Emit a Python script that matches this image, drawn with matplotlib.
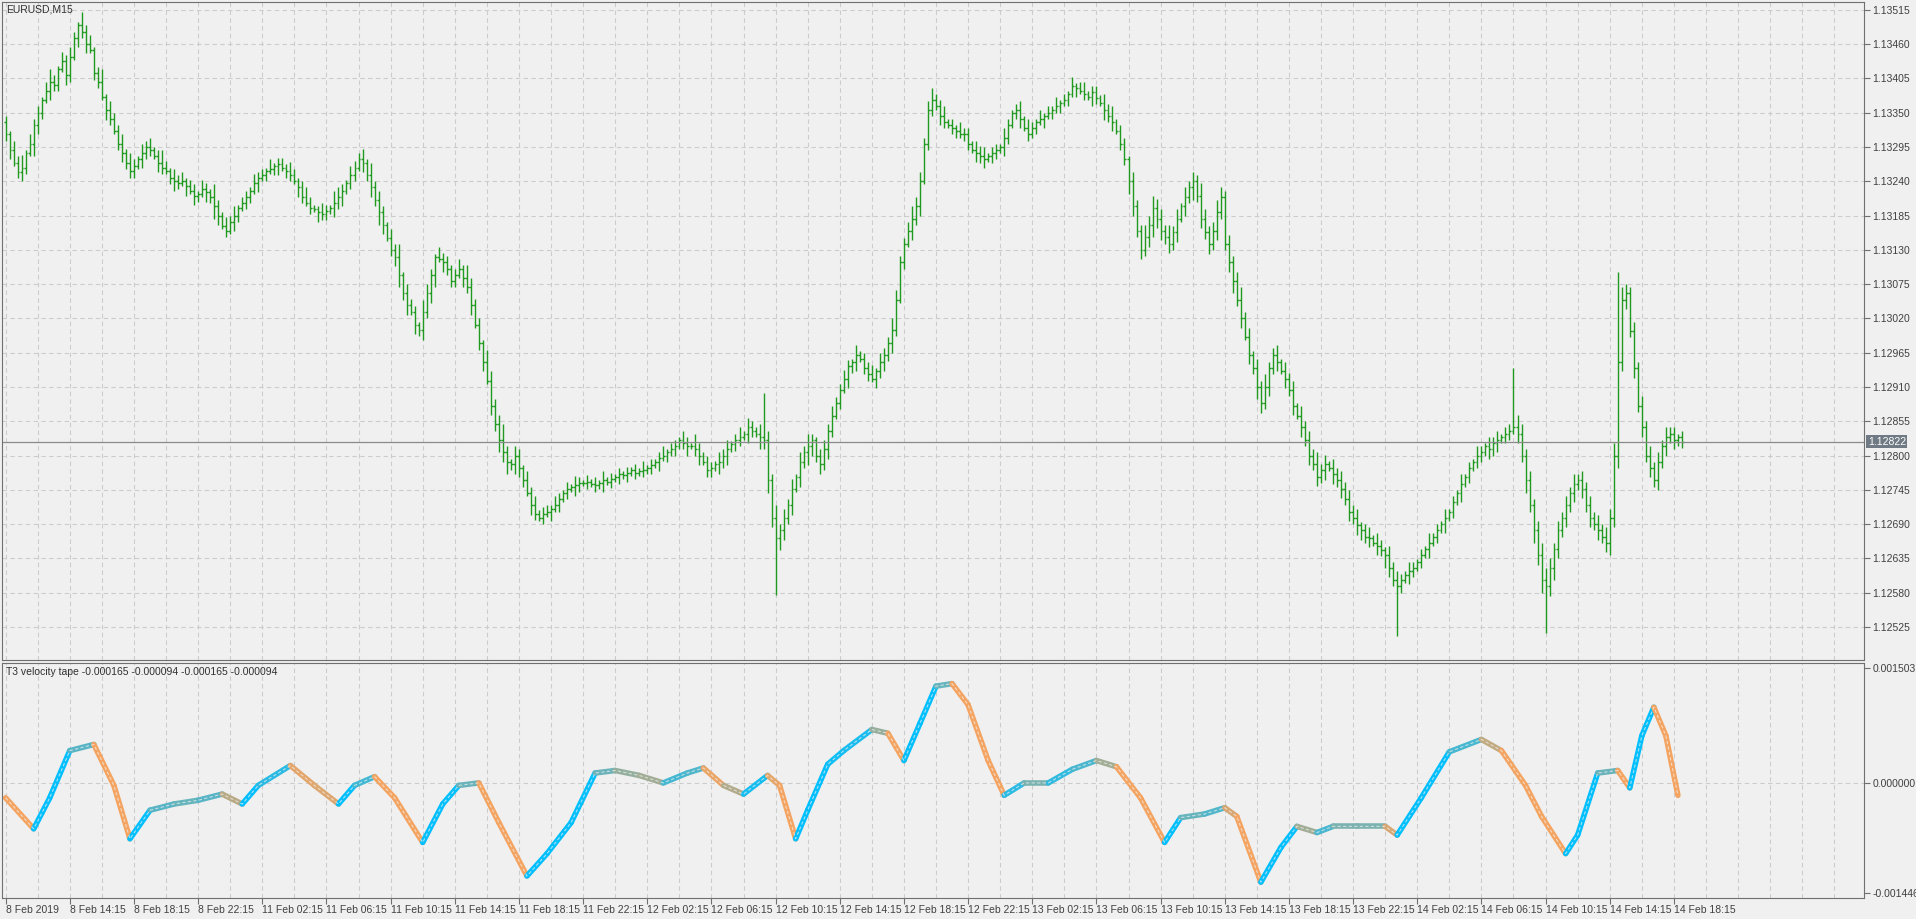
import matplotlib
matplotlib.use("Agg")
import matplotlib.pyplot as plt
import numpy as np
from matplotlib.collections import LineCollection
from matplotlib.colors import to_rgb

plt.rcParams['font.family'] = ['Liberation Sans', 'DejaVu Sans']

BASE = 1.12000
PT = 0.00001
closes_pts = [
1315,1290,1270,1255,1262,1285,1300,1330,1350,1370,1385,1400,1395,1420,1433,1410,
1440,1470,1491,1480,1460,1450,1413,1400,1375,1354,1340,1320,1300,1286,1270,1256,
1265,1276,1285,1295,1290,1280,1270,1262,1256,1245,1240,1237,1240,1232,1225,1217,
1220,1227,1222,1215,1200,1185,1168,1160,1175,1185,1197,1205,1215,1225,1237,1245,
1250,1256,1260,1265,1268,1262,1256,1250,1240,1230,1215,1205,1197,1195,1190,1188,
1192,1197,1205,1215,1225,1237,1250,1262,1276,1270,1250,1230,1210,1190,1170,1149,
1130,1119,1090,1060,1041,1030,1010,1001,1030,1060,1090,1119,1115,1110,1100,1080,
1090,1100,1085,1070,1041,1010,980,950,920,880,850,825,805,790,786,800,
780,760,740,720,707,700,707,710,715,720,730,740,747,750,752,756,
756,758,755,752,756,760,758,762,765,770,768,772,776,772,775,776,
780,785,790,796,800,805,810,815,825,820,815,815,810,800,790,776,
780,786,790,800,810,818,825,830,835,845,840,835,830,825,760,700,
668,680,700,720,747,765,790,805,815,825,800,786,810,840,864,884,
905,923,943,950,962,955,940,930,923,935,950,962,980,1001,1050,1110,
1139,1160,1180,1200,1240,1300,1354,1370,1360,1345,1335,1330,1325,1320,1315,1315,
1300,1290,1286,1280,1276,1280,1285,1290,1295,1310,1330,1350,1354,1340,1325,1315,
1325,1335,1340,1345,1350,1355,1360,1365,1370,1380,1393,1390,1385,1380,1375,1383,
1374,1365,1354,1345,1335,1320,1300,1276,1240,1200,1160,1130,1150,1170,1197,1180,
1160,1150,1140,1158,1180,1200,1215,1230,1240,1217,1180,1158,1139,1160,1190,1215,
1139,1110,1080,1050,1020,990,962,940,910,884,910,940,962,950,935,923,
905,880,864,845,825,800,786,766,776,786,780,770,760,747,730,710,
700,688,680,670,668,660,655,649,640,620,600,590,600,609,615,620,
629,640,650,660,670,680,690,700,710,725,740,755,766,780,790,800,
805,815,810,820,825,830,835,840,845,835,800,760,720,680,640,600,
590,620,650,680,700,720,740,755,760,747,720,700,690,680,670,660,
700,800,950,1050,1060,1000,940,880,845,800,780,760,790,815,830,835,
825,830,822]
up_wick = ("2132413221342132" "3214231241322313" "2132312421323122" "1321421323122132"
           "2131221321232113" "2143213223142321" "3241322143213221" "2314322143235213"
           "2132312213212132" "1212131212121213" "1212312213214212" "2132312313213432"
           "4232313242123232" "2321312231322432" "2343323422312132" "2132312213212313"
           "2131213121312312" "2132312213224343" "3242313232432343" "2323423132422313"
           "2313232423132323" "2312313213232132" "1213121312131213" "2132312214323234"
           "4323232323232323" "3434323232323232" "212")
dn_wick = ("2312321432132213" "2132312213212322" "2132213212321313" "2132431213212213"
           "1212312213212132" "2132312213232431" "2342313232341322" "2132312313243423"
           "3213212131212132" "1212131212121212" "1213121212312312" "2132312213214343"
           "3432313243232321" "2132312213232321" "2132312213212212" "2132312213212312"
           "1213121212131213" "2132312243232343" "3232313242323232" "2342313243232313"
           "2313232323132323" "2332313243232132" "1213121312131212" "2132312213242434"
           "3343232323232323" "4343323232323232" "322")
spikes = {189: (900, None), 192: (None, 576), 347: (None, 510), 384: (None, 515),
          376: (940, None), 402: (1095, None)}

tick_labels = ["8 Feb 2019", "8 Feb 14:15", "8 Feb 18:15", "8 Feb 22:15",
               "11 Feb 02:15", "11 Feb 06:15", "11 Feb 10:15", "11 Feb 14:15",
               "11 Feb 18:15", "11 Feb 22:15", "12 Feb 02:15", "12 Feb 06:15",
               "12 Feb 10:15", "12 Feb 14:15", "12 Feb 18:15", "12 Feb 22:15",
               "13 Feb 02:15", "13 Feb 06:15", "13 Feb 10:15", "13 Feb 14:15",
               "13 Feb 18:15", "13 Feb 22:15", "14 Feb 02:15", "14 Feb 06:15",
               "14 Feb 10:15", "14 Feb 14:15", "14 Feb 18:15"]

osc_bars = [0,7,11,16,22,27,31,36,42,48,54,59,63,71,77,83,87,92,97,104,109,113,118,123,
            130,135,141,147,152,158,164,170,174,179,184,190,193,197,200,205,209,216,220,
            224,228,232,236,240,245,249,254,260,266,272,277,283,289,293,299,304,307,313,
            318,322,327,331,337,344,347,353,360,368,373,379,383,389,392,397,402,405,408,
            411,414,417]
osc_vals = [-196,-603,-196,424,505,-33,-734,-359,-277,-228,-147,-277,-33,228,-33,-277,-33,
            82,-196,-782,-277,-33,0,-522,-1223,-929,-522,130,163,98,0,130,196,-33,-147,98,
            -33,-734,-359,245,424,701,652,294,782,1271,1304,1027,294,-163,0,0,179,294,212,
            -196,-782,-456,-408,-326,-440,-1304,-848,-571,-652,-571,-571,-571,-685,-196,
            408,571,424,-33,-440,-929,-685,130,163,-65,619,994,619,-163]
osc_vals = [v * 1e-6 for v in osc_vals]

n = len(closes_pts)
c = np.array([BASE + p * PT for p in closes_pts])
o = np.concatenate([[c[0] + 20 * PT], c[:-1]])
uw = np.array([int(d) for d in (up_wick + "2" * n)[:n]]) * 5 * PT
dw = np.array([int(d) for d in (dn_wick + "2" * n)[:n]]) * 5 * PT
h = np.maximum(o, c) + uw
l = np.minimum(o, c) - dw
for k, (hh, ll) in spikes.items():
    if hh is not None: h[k] = BASE + hh * PT
    if ll is not None: l[k] = BASE + ll * PT

BG = "#f0f0f0"
FS = 7.5
fig = plt.figure(figsize=(19.16, 9.19), dpi=100, facecolor=BG)
W, H = 1916, 919
L, R = 2 / W, 1864 / W
ax1 = fig.add_axes([L, 1 - 660 / H, R - L, (660 - 2.4) / H], facecolor=BG)
ax2 = fig.add_axes([L, 1 - 898 / H, R - L, (898 - 663) / H], facecolor=BG)

x = np.arange(n)
xl = (-0.9, 463.4)
grid_x = np.arange(0, 464, 8)
for ax in (ax1, ax2):
    ax.set_xlim(*xl)
    for gx in grid_x:
        ax.axvline(gx, color="#cccccc", lw=0.8, ls=(0, (4, 3)), zorder=0)
    for s in ax.spines.values():
        s.set_color("#707070")
    ax.yaxis.tick_right()
    ax.tick_params(axis="y", direction="out", length=4, colors="#707070",
                   labelcolor="#404040", labelsize=FS, pad=2)

# price panel
ax1.set_ylim(1.12472, 1.135269)
yt = [1.12525 + 0.00055 * i for i in range(19)]
ax1.set_yticks(yt)
ax1.set_yticklabels([f"{v:.5f}" for v in yt])
for v in yt:
    ax1.axhline(v, color="#cccccc", lw=0.8, ls=(0, (4, 3)), zorder=0)
green = "#1f9a1f"
ax1.vlines(x, l, h, color=green, lw=1)
ax1.hlines(o, x - 0.45, x, color=green, lw=1)
ax1.hlines(c, x, x + 0.45, color=green, lw=1)
ax1.axhline(c[-1], color="#8a8a8a", lw=0.9)
ax1.text(1.002, c[-1], f"{c[-1]:.5f}", transform=ax1.get_yaxis_transform(),
         va="center", ha="left", fontsize=FS, color="white",
         bbox=dict(boxstyle="square,pad=0.15", fc="#707a84", ec="none"))
ax1.set_xticks([])
ax1.text(0.002, 0.997, "EURUSD,M15", transform=ax1.transAxes, va="top", ha="left",
         fontsize=FS, color="#303030")

# oscillator panel
ax2.set_ylim(-0.001512, 0.001575)
ax2.set_yticks([0.001503, 0.0, -0.001446])
ax2.set_yticklabels(["0.001503", "0.000000", "-0.001446"])
ax2.axhline(0, color="#cccccc", lw=0.8, ls=(0, (4, 3)), zorder=0)
ox = np.array(osc_bars, float)
oy = np.array(osc_vals)
pts = np.column_stack([ox, oy])
segs = np.stack([pts[:-1], pts[1:]], axis=1)
slope = np.diff(oy) / np.diff(ox)
t = np.clip(0.5 + slope / 0.00010, 0, 1)
c_up, c_dn = np.array(to_rgb("#00bfff")), np.array(to_rgb("#f4a460"))
cols = [tuple(c_dn + (c_up - c_dn) * tt) for tt in t]
ax2.add_collection(LineCollection(segs, colors=cols, linewidths=4.0, capstyle="round",
                                  joinstyle="round"))
ax2.plot(ox, oy, color="#f0f0f0", lw=0.8, alpha=0.7, ls=(0, (3, 2)))
ax2.set_xticks(np.arange(0, 417, 16))
ax2.set_xticklabels(tick_labels, ha="left")
ax2.tick_params(axis="x", direction="out", length=4, colors="#707070",
                labelcolor="#404040", labelsize=FS, pad=1)
ax2.text(0.002, 0.985, "T3 velocity tape -0.000165 -0.000094 -0.000165 -0.000094",
         transform=ax2.transAxes, va="top", ha="left", fontsize=FS, color="#303030")

fig.savefig("out.png", dpi=100, facecolor=BG)
